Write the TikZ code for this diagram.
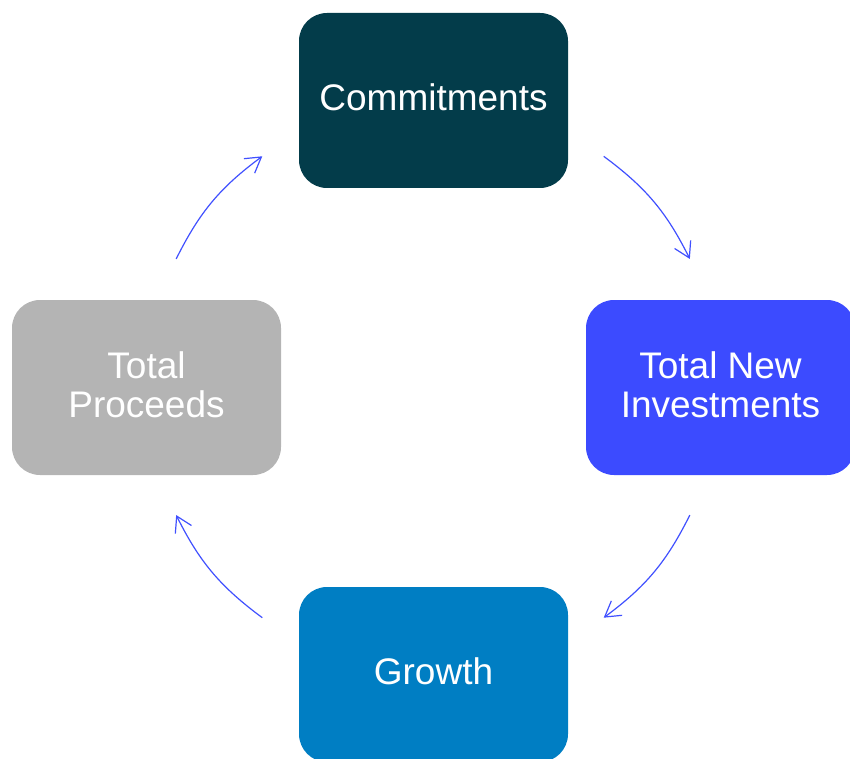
\documentclass[tikz,border=0pt]{standalone}
\usepackage{fontspec}
\setmainfont{Liberation Sans}
\usetikzlibrary{arrows.meta}
\definecolor{commitC}{HTML}{033C4A}
\definecolor{investC}{HTML}{3C4BFF}
\definecolor{growthC}{HTML}{007EC3}
\definecolor{proceedsC}{HTML}{B4B4B4}
\definecolor{flowC}{HTML}{4050FF}
\begin{document}
\begin{tikzpicture}[x=1pt,y=1pt,
  stage/.style={rounded corners=28pt, minimum width=269pt, minimum height=175pt,
    inner sep=0pt, text=white, align=center, text depth=6pt,
    font=\fontsize{37}{38.5}\selectfont},
  flow/.style={draw=flowC, line width=1.2pt,
    -{Straight Barb[length=15pt,width=18pt]}}
]
\clip (0,0) rectangle (850,-759);
% the four stages of the cycle
\node[stage, fill=commitC]   (commit)   at (433.5,-100.5) {Commitments};
\node[stage, fill=investC]   (invest)   at (720.5,-387.5) {Total New\\Investments};
\node[stage, fill=growthC]   (growth)   at (433.5,-674.5) {Growth};
\node[stage, fill=proceedsC] (proceeds) at (146.5,-387.5) {Total\\Proceeds};
% arrow ends on a circle round the middle of the cycle
\coordinate (hub) at (433,-387);
\coordinate (a1) at ([shift={(53.5:287)}]hub);
\coordinate (b1) at ([shift={(26.5:287)}]hub);
\coordinate (a2) at ([shift={(-26.5:287)}]hub);
\coordinate (b2) at ([shift={(-53.5:287)}]hub);
\coordinate (a3) at ([shift={(-126.5:287)}]hub);
\coordinate (b3) at ([shift={(-153.5:287)}]hub);
\coordinate (a4) at ([shift={(153.5:287)}]hub);
\coordinate (b4) at ([shift={(126.5:287)}]hub);
\draw[flow] (a1) to[bend left=13.5] (b1);
\draw[flow] (a2) to[bend left=13.5] (b2);
\draw[flow] (a3) to[bend left=13.5] (b3);
\draw[flow] (a4) to[bend left=13.5] (b4);
\end{tikzpicture}
\end{document}
